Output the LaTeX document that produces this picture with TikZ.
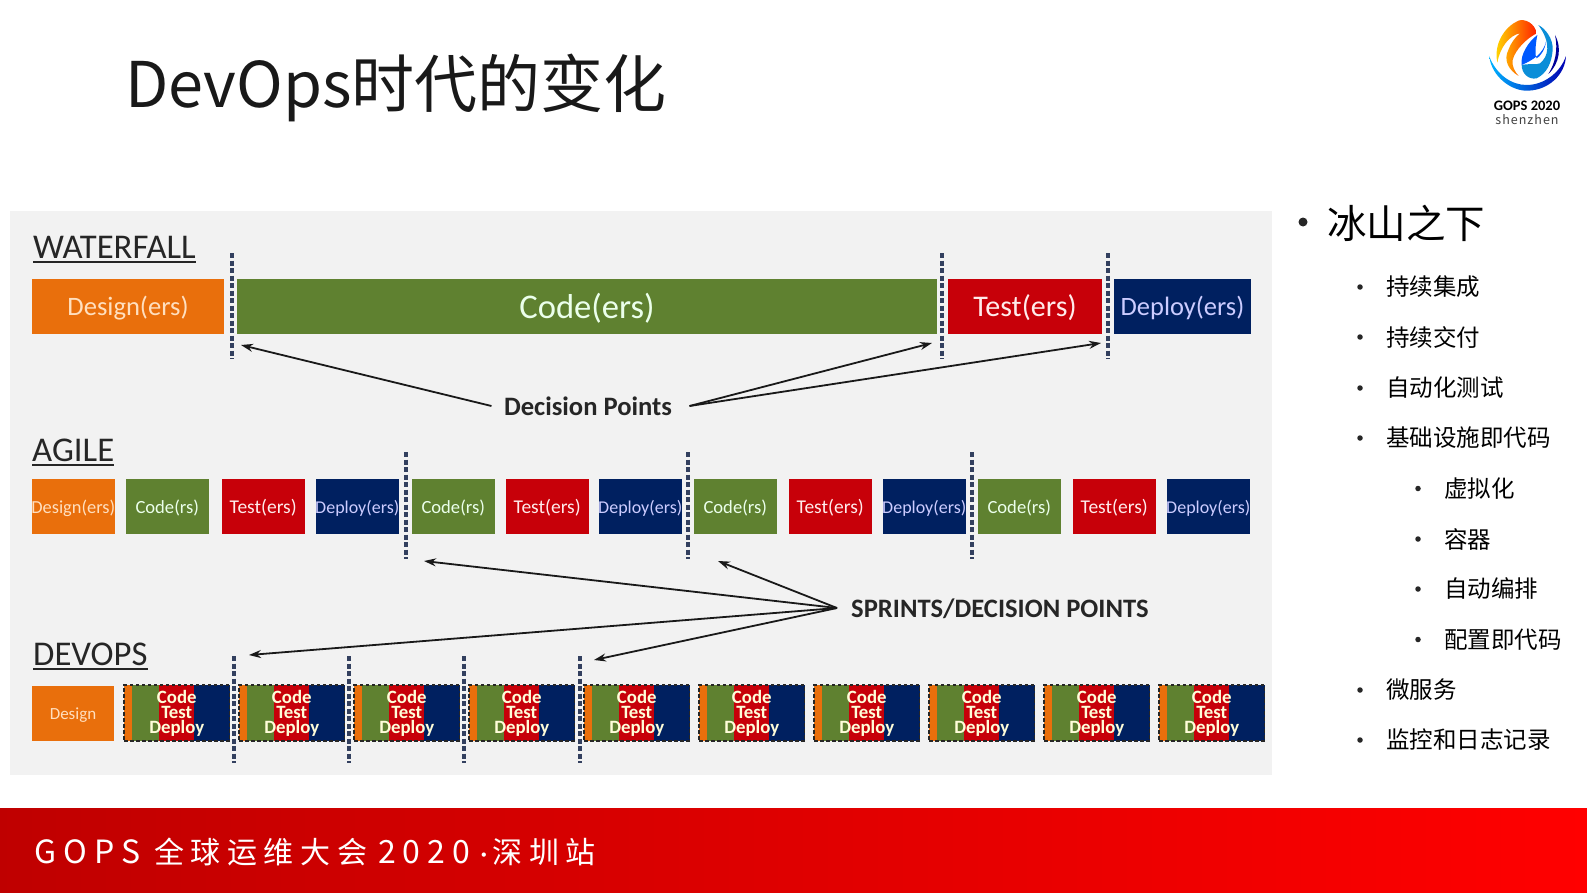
\documentclass[tikz,border=0pt]{standalone}
\usepackage{fontspec}
\setmainfont{Noto Sans CJK SC}
\newfontfamily\carlito{Carlito}
\newfontfamily\footfont[LetterSpace=22]{Noto Sans CJK SC}
\newfontfamily\logofont[LetterSpace=8]{Noto Sans CJK SC}
\usetikzlibrary{calc,arrows.meta}
\definecolor{panelgray}{HTML}{F2F2F2}
\definecolor{dsgcol}{HTML}{E96F0C}
\definecolor{codecol}{HTML}{5F8130}
\definecolor{testcol}{HTML}{C70009}
\definecolor{depcol}{HTML}{002060}
\definecolor{splitcol}{HTML}{33405F}
\tikzset{
  dsgbox/.style={fill=dsgcol,text=orange!25!white},
  codebox/.style={fill=codecol,text=green!8!white},
  testbox/.style={fill=testcol,text=red!8!white},
  depbox/.style={fill=depcol,text=blue!20!white},
  boxtext/.style={font=\carlito\fontsize{#1}{#1}\selectfont},
  heading/.style={font=\carlito\fontsize{34.7}{34.7}\selectfont,anchor=west,inner sep=0pt,text=black!85},
  headrule/.style={color=black!85,line width=2.2pt},
  note/.style={font=\carlito\bfseries\fontsize{26.6}{26.6}\selectfont,text=black!85},
  pointer/.style={->,line width=1.8pt,color=black!90},
  splitline/.style={color=splitcol,line width=3.2pt,dash pattern=on 5pt off 2.5pt},
  sprintframe/.style={draw=black!85,line width=1.6pt,dash pattern=on 3.5pt off 2.5pt,minimum width=105.5pt,minimum height=56pt,inner sep=0pt,
    align=center,text=white!85!yellow,font=\carlito\bfseries\fontsize{18.8}{15}\selectfont},
  listbig/.style={anchor=west,inner sep=0pt,font=\fontsize{39.5}{40}\selectfont},
  listsmall/.style={anchor=west,inner sep=0pt,font=\fontsize{23.5}{24}\selectfont},
  dotmark/.style={circle,fill=black!85,inner sep=0pt},
}
\begin{document}
\begin{tikzpicture}[x=1pt,y=-1pt,>={Stealth[length=12pt,width=8pt]}]
  \useasboundingbox (0,0) rectangle (1587,892);

  \node[anchor=west,inner sep=0pt,font=\fontsize{63}{64}\selectfont,text=black!90] (title) at (125,88) {DevOps时代的变化};

  % logo
  \begin{scope}[shift={(1440,0)},x=0.3333pt,y=-0.3333pt]
    \shade[left color=cyan!70!blue,right color=blue!70!black] (148,170) .. controls (155,230) and (215,275) .. (265,272)
      .. controls (325,270) and (375,225) .. (378,168) .. controls (360,220) and (310,255) .. (260,255)
      .. controls (215,255) and (170,225) .. (148,170);
    \shade[left color=yellow!75!orange,right color=red!75!orange] (172,188) .. controls (160,130) and (195,80) .. (235,62)
      .. controls (255,55) and (285,70) .. (290,100) .. controls (260,115) and (225,150) .. (218,180)
      .. controls (215,200) and (225,215) .. (236,228) .. controls (205,210) and (190,180) .. (205,150)
      .. controls (212,130) and (225,112) .. (240,100) .. controls (210,105) and (180,140) .. (172,188);
    \fill[color=cyan!75!blue] (245,195) .. controls (270,190) and (290,195) .. (300,190)
      .. controls (325,170) and (335,130) .. (295,75) .. controls (315,85) and (340,115) .. (338,150)
      .. controls (335,190) and (320,220) .. (290,235) .. controls (265,240) and (245,220) .. (245,195);
    \fill[color=blue!65!cyan] (318,125) .. controls (310,160) and (280,180) .. (245,195)
      .. controls (240,165) and (265,125) .. (292,105) .. controls (285,140) and (285,170) .. (290,175)
      .. controls (300,170) and (315,150) .. (318,125);
    \fill[color=blue!60!black] (345,105) .. controls (365,140) and (360,190) .. (325,222)
      .. controls (345,190) and (355,150) .. (345,105);
  \end{scope}
  \node[inner sep=0pt,font=\carlito\bfseries\fontsize{14.5}{15}\selectfont] (logotop) at (1527,105.5) {GOPS 2020};
  \node[inner sep=0pt,font=\logofont\fontsize{12.5}{13}\selectfont,text=black!75] (logobot) at (1527,120) {shenzhen};

  % panel
  \fill[color=panelgray] (10,211) rectangle (1272,775);

  \foreach \nm/\x/\y/\txt in {wfhead/33/247/WATERFALL,aglhead/32/450/AGILE,devhead/33/654/DEVOPS} {
    \node[heading] (\nm) at (\x,\y) {\txt};
    \draw[headrule] ($(\nm.base west)+(0,3.5)$) -- ($(\nm.base east)+(0,3.5)$);
  }

  % waterfall row
  \foreach \nm/\a/\b/\stl/\sz/\txt in {wfA/32/224/dsgbox/26.6/Design(ers),wfB/237/937/codebox/34.6/Code(ers),
    wfC/948/1102/testbox/30/Test(ers),wfD/1114/1251/depbox/26.5/Deploy(ers)}
    \path[\stl] (\a,279) rectangle (\b,334) node[midway,boxtext=\sz,yshift=-1.5pt] (\nm) {\txt};
  \foreach \x in {232,942,1108} \draw[splitline] (\x,253) -- (\x,359);

  % agile row
  \foreach \nm/\a/\stl/\sz/\txt in {agA/32/dsgbox/18.4/Design(ers),agB/126/codebox/18.6/Code(rs),agC/222/testbox/19.5/Test(ers),agD/316/depbox/18/Deploy(ers),
    agE/412/codebox/18.6/Code(rs),agF/506/testbox/19.5/Test(ers),agG/599/depbox/18/Deploy(ers),
    agH/694/codebox/18.6/Code(rs),agI/789/testbox/19.5/Test(ers),agJ/883/depbox/18/Deploy(ers),
    agK/978/codebox/18.6/Code(rs),agL/1073/testbox/19.5/Test(ers),agM/1167/depbox/18/Deploy(ers)}
    \path[\stl] (\a,479) rectangle +(82.5,55) node[midway,boxtext=\sz,yshift=-1.5pt] (\nm) {\txt};
  \foreach \x in {406,688,972} \draw[splitline] (\x,452) -- (\x,559);

  % devops row
  \path[dsgbox] (32,686) rectangle (114,741) node[midway,boxtext=17,yshift=-2pt] (devdsg) {Design};
  \foreach \i in {0,...,9} {
    \begin{scope}[shift={(124+115*\i,685)}]
      \fill[color=dsgcol] (0,0) rectangle (8,56);
      \fill[color=codecol] (8,0) rectangle (35,56);
      \fill[color=testcol] (35,0) rectangle (69.5,56);
      \fill[color=depcol] (69.5,0) rectangle (105.5,56);
      \node[sprintframe] (sprint\i) at (52.75,28) {Code\\Test\\Deploy};
    \end{scope}
  }
  \foreach \x in {234,349,464,580} \draw[splitline] (\x,656) -- (\x,763);

  % decision points
  \node[note] (decide) at (588,406) {Decision Points};
  \coordinate (wfleft) at (241,345);
  \coordinate (wfmid) at (932,343);
  \coordinate (wfright) at (1101,343);
  \draw[pointer] ($(decide.west)+(-9,0)$) -- (wfleft);
  \draw[pointer] ($(decide.east)+(14,0)$) -- (wfmid);
  \draw[pointer] ($(decide.east)+(14,0)$) -- (wfright);

  \node[note,anchor=west,inner sep=0pt] (sprints) at (851,609) {SPRINTS/DECISION POINTS};
  \foreach \nm/\x/\y in {spA/424/561,spB/718/561,spC/249/655,spD/594/660} {
    \coordinate (\nm) at (\x,\y);
    \draw[pointer] ($(sprints.west)+(-14,-1)$) -- (\nm);
  }

  % list on the right
  \node[dotmark,minimum size=9pt] (topdot) at (1303,222) {};
  \node[listbig] (top) at (1327,223) {冰山之下};
  \foreach \i/\x/\y/\txt in {1/1386/287/持续集成,2/1386/337/持续交付,3/1386/388/自动化测试,4/1386/438/基础设施即代码,
    5/1444/488.5/虚拟化,6/1444/539/容器,7/1444/589/自动编排,8/1444/639.5/配置即代码,
    9/1386/690/微服务,10/1386/740/监控和日志记录} {
    \node[listsmall] (item\i) at (\x,\y) {\txt};
    \node[dotmark,minimum size=5.5pt] (dot\i) at ($(item\i.west)+(-26,0)$) {};
  }

  % footer
  \shade[left color=red!75!black,right color=red] (0,808) rectangle (1587,892);
  \node[anchor=west,inner sep=0pt,text=white,font=\footfont\fontsize{30}{30}\selectfont] (foot) at (34,852)
    {{\fontsize{32}{32}\selectfont GOPS}\hspace{14pt}全球运维大会\hspace{11pt}{\fontsize{32}{32}\selectfont 2020}\hspace{10pt}{\carlito ·}\hspace{5pt}深圳站};
\end{tikzpicture}
\end{document}
